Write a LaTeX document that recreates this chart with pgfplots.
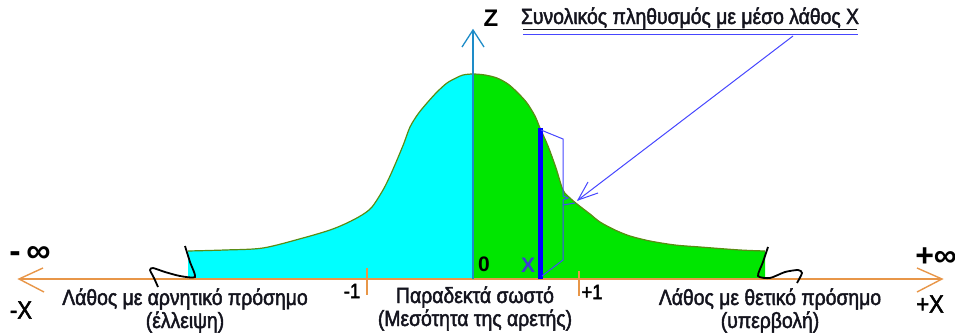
\documentclass[border=0pt]{standalone}
\usepackage{fontspec}
\setmainfont{Liberation Sans}[FakeStretch=0.88,FakeBold=2]
\newfontfamily\widefont{Liberation Sans}
\usepackage{pgfplots}
\usepgfplotslibrary{fillbetween}
\pgfplotsset{compat=1.18}
\definecolor{myorange}{RGB}{232,150,72}
\definecolor{zblue}{RGB}{30,140,200}
\definecolor{mycyan}{RGB}{0,255,255}
\definecolor{mygreen}{RGB}{0,230,0}
\definecolor{edge}{RGB}{90,140,20}
\definecolor{callout}{RGB}{70,70,255}
\definecolor{xblue}{RGB}{60,60,210}
\definecolor{txt}{RGB}{20,20,30}
\begin{document}
\begin{tikzpicture}
\begin{axis}[width=955pt,height=335pt,scale only axis,xmin=0,xmax=955,ymin=0,ymax=335,
  y dir=reverse,axis lines=none,clip=false]
% curve
\addplot[name path=top, draw=none, smooth, tension=0.5] coordinates {
(188,251) (225,250) (263,248) (303,238) (330,230) (347,223) (362,215) (372,207)
(383,190) (390,176) (397,160) (404,143) (410,127) (418,114) (427,103) (437,92)
(447,83) (456,78) (463,75) (473,74) (485,75) (497,78) (508,84) (518,93) (527,103)
(535,116) (540,128) (548,146) (556,168) (563,190) (570,198) (577,204) (590,214)
(600,222) (615,230) (630,236) (650,241) (675,245) (700,247) (740,250) (765,251)};
\addplot[name path=base, draw=none] coordinates {(188,279) (765,279)};
\addplot[mycyan] fill between[of=top and base, soft clip={domain=188:473}];
\addplot[mygreen] fill between[of=top and base, soft clip={domain=473:765}];
\addplot[draw=edge, line width=1.2pt, smooth, tension=0.5] coordinates {
(188,251) (225,250) (263,248) (303,238) (330,230) (347,223) (362,215) (372,207)
(383,190) (390,176) (397,160) (404,143) (410,127) (418,114) (427,103) (437,92)
(447,83) (456,78) (463,75) (473,74) (485,75) (497,78) (508,84) (518,93) (527,103)
(535,116) (540,128) (548,146) (556,168) (563,190) (570,198) (577,204) (590,214)
(600,222) (615,230) (630,236) (650,241) (675,245) (700,247) (740,250) (765,251)};
% orange axis
\addplot[myorange, line width=1.6pt] coordinates {(19,279) (942,279)};
\addplot[myorange, line width=1.4pt] coordinates {(43,268) (19,279) (44,292)};
\addplot[myorange, line width=1.4pt] coordinates {(917,268) (942,279) (917,292)};
\addplot[myorange, line width=1.4pt] coordinates {(367,268) (367,295)};
\addplot[myorange, line width=1.4pt] coordinates {(579,271) (579,296)};
% break marks
\addplot[black, line width=1.8pt, smooth, tension=0.4] coordinates {
(185,246) (190,262) (195,277) (180,276) (165,272) (153,268) (150,270) (154,278) (158,287)};
\addplot[black, line width=1.8pt, smooth, tension=0.4] coordinates {
(768,247) (763,262) (758,276) (770,278) (785,272) (798,270) (802,273) (797,283)};
% Z axis
\addplot[zblue, line width=1.3pt] coordinates {(473,279) (473,30)};
\addplot[zblue, line width=1.3pt] coordinates {(462,47) (473,30) (484,47)};
% thick blue line
\addplot[blue, line width=5pt] coordinates {(540,279) (540,128)};
% brace
\addplot[callout, line width=1pt] coordinates {
(541,130) (563,139) (563,196) (568,198) (563,200) (563,205) (575,203)};
\addplot[callout, line width=1pt] coordinates {(563,205) (563,260) (542,276)};
% callout
\addplot[callout, line width=1pt] coordinates {(523,35) (858,35)};
\addplot[callout, line width=1pt] coordinates {(793,36) (578,200)};
\addplot[callout, line width=1pt] coordinates {(588,182) (578,200) (598,193)};
\addplot[txt, line width=0.9pt] coordinates {(523,29) (857,29)};
% texts
\node[font=\fontsize{22}{24}\selectfont, text=txt] at (axis cs:690,18) {Συνολικός πληθυσμός με μέσο λάθος Χ};
\node[font=\widefont\bfseries\fontsize{24}{24}\selectfont] at (axis cs:491,18) {Z};
\node[font=\widefont\bfseries\fontsize{21}{22}\selectfont] at (axis cs:484,264) {0};
\node[font=\widefont\bfseries\fontsize{21}{22}\selectfont, text=xblue] at (axis cs:528,265) {X};
\node[font=\fontsize{21}{22}\selectfont] at (axis cs:352,291) {-1};
\node[font=\fontsize{21}{22}\selectfont] at (axis cs:592,292) {+1};
\node[font=\widefont\bfseries\fontsize{34}{34}\selectfont, inner sep=0pt] at (axis cs:30,254) {-\,∞};
\node[font=\widefont\bfseries\fontsize{32}{32}\selectfont, inner sep=0pt] at (axis cs:936,257) {+∞};
\node[font=\fontsize{25}{26}\selectfont, inner sep=0pt] at (axis cs:21,310) {-X};
\node[font=\fontsize{25}{26}\selectfont, inner sep=0pt] at (axis cs:930,304) {+X};
\node[font=\fontsize{22}{24}\selectfont, text=txt] at (axis cs:185,299) {Λάθος με αρνητικό πρόσημο};
\node[font=\fontsize{22}{24}\selectfont, text=txt] at (axis cs:185,322) {(έλλειψη)};
\node[font=\fontsize{22}{24}\selectfont, text=txt] at (axis cs:475,297) {Παραδεκτά σωστό};
\node[font=\fontsize{22}{24}\selectfont, text=txt] at (axis cs:475,320) {(Μεσότητα της αρετής)};
\node[font=\fontsize{22}{24}\selectfont, text=txt] at (axis cs:770,299) {Λάθος με θετικό πρόσημο};
\node[font=\fontsize{22}{24}\selectfont, text=txt] at (axis cs:770,322) {(υπερβολή)};
\end{axis}
\pgfresetboundingbox
\path (0,0) rectangle (955pt,335pt);
\end{tikzpicture}
\end{document}
